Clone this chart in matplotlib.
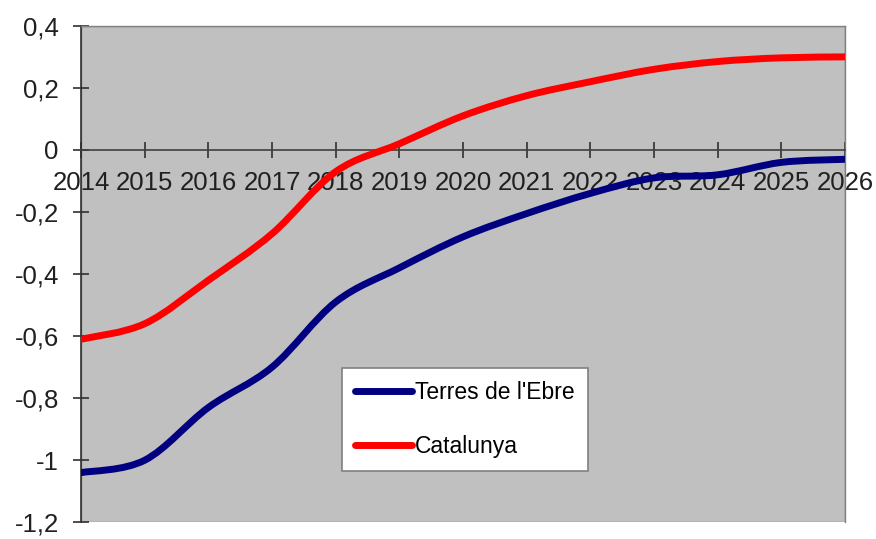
import numpy as np
import matplotlib
matplotlib.use("Agg")
import matplotlib.pyplot as plt
from matplotlib.path import Path
from matplotlib.patches import PathPatch, Rectangle
from matplotlib.lines import Line2D
from matplotlib.ticker import FuncFormatter

plt.rcParams['font.family'] = ['Liberation Sans', 'DejaVu Sans']

years = [2014, 2015, 2016, 2017, 2018, 2019, 2020, 2021, 2022, 2023, 2024, 2025, 2026]
terres_ebre = [-1.04, -1.00, -0.83, -0.70, -0.49, -0.38, -0.28, -0.205, -0.14, -0.09, -0.08, -0.04, -0.03]
catalunya = [-0.61, -0.56, -0.42, -0.27, -0.07, 0.02, 0.11, 0.175, 0.22, 0.26, 0.285, 0.297, 0.30]
series_names = ["Terres de l'Ebre", "Catalunya"]
series_colors = ["#000080", "#FF0000"]
y_ticks = [0.4, 0.2, 0, -0.2, -0.4, -0.6, -0.8, -1, -1.2]


def smooth_path(xs, ys):
    # excel-like smoothed line: catmull-rom segments as cubic beziers
    pts = np.column_stack([xs, ys]).astype(float)
    ext = np.vstack([pts[0], pts, pts[-1]])
    verts = [pts[0]]
    codes = [Path.MOVETO]
    for i in range(1, len(ext) - 2):
        p0, p1, p2, p3 = ext[i - 1], ext[i], ext[i + 1], ext[i + 2]
        verts += [p1 + (p2 - p0) / 6, p2 - (p3 - p1) / 6, p2]
        codes += [Path.CURVE4] * 3
    return Path(verts, codes)


fig = plt.figure(figsize=(8.76, 5.39), dpi=100)
ax = fig.add_axes([0.0925, 0.031, 0.8721, 0.921])
ax.set_facecolor("#C0C0C0")
ax.set_xlim(2014, 2026)
ax.set_ylim(-1.2, 0.4)

for vals, col in zip([terres_ebre, catalunya], series_colors):
    ax.add_patch(PathPatch(smooth_path(years, vals), facecolor="none",
                           edgecolor=col, lw=5, capstyle="round", zorder=3))

# axes styling
for s in ["top", "right"]:
    ax.spines[s].set_color("#808080")
    ax.spines[s].set_linewidth(1.0)
ax.spines["left"].set_color("#303030")
ax.spines["left"].set_linewidth(1.2)
ax.spines["bottom"].set_position(("data", 0))
ax.spines["bottom"].set_color("#404040")
ax.spines["bottom"].set_linewidth(1.2)
ax.add_patch(Rectangle((0, 0), 1, 1, transform=ax.transAxes, fill=False,
                       edgecolor="#808080", lw=1.0, zorder=1))

ax.set_xticks(years)
ax.set_xticklabels([str(y) for y in years])
ax.set_yticks(y_ticks)
ax.yaxis.set_major_formatter(FuncFormatter(lambda v, p: ("%g" % v).replace(".", ",")))
ax.tick_params(axis="both", direction="inout", length=12, width=1.2,
               color="#303030", labelsize=18.5, labelcolor="#202020")
ax.tick_params(axis="y", pad=10)
ax.tick_params(axis="x", pad=9)

handles = [Line2D([], [], color=c, lw=5, solid_capstyle="round") for c in series_colors]
leg = ax.legend(handles, series_names, loc="upper left", bbox_to_anchor=(0.3416, 0.31),
                fontsize=16.5, frameon=True, fancybox=False, handlelength=2.5,
                handletextpad=0.15, labelspacing=1.35, borderpad=0.55, borderaxespad=0)
leg.get_frame().set_edgecolor("#808080")
leg.get_frame().set_linewidth(1.2)
leg.get_frame().set_facecolor("white")
leg.get_frame().set_alpha(1)

fig.savefig("out.png", dpi=100)
